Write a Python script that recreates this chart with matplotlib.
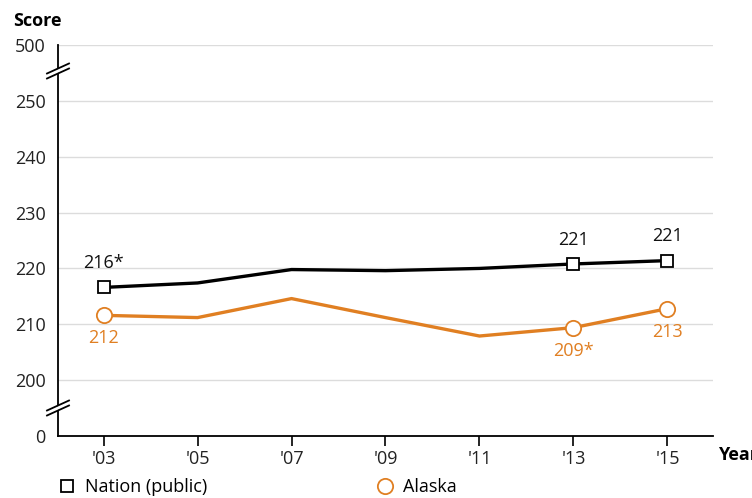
import numpy as np
import matplotlib
matplotlib.use("Agg")
import matplotlib.pyplot as plt
from matplotlib.lines import Line2D
from matplotlib.patches import Polygon

plt.rcParams['font.family'] = ['Open Sans', 'DejaVu Sans']

# ---- data ----
years = [2003, 2005, 2007, 2009, 2011, 2013, 2015]
year_labels = ["'03", "'05", "'07", "'09", "'11", "'13", "'15"]
nation = [216.6, 217.4, 219.8, 219.6, 220.0, 220.8, 221.4]
alaska = [211.6, 211.2, 214.6, 211.2, 207.9, 209.4, 212.8]
labeled_idx = [0, 5, 6]
nation_labels = ['216*', '221', '221']
alaska_labels = ['212', '209*', '213']
y_ticks = [0, 200, 210, 220, 230, 240, 250, 500]
y_tick_labels = ['0', '200', '210', '220', '230', '240', '250', '500']

BLACK = '#000000'
ORANGE = '#E07F22'
GRID = '#dcdcdc'
FS = 13

# broken y scale: 0-200 and 250-500 compressed into one 10-unit step each
def fwd(v):
    v = np.asarray(v, dtype=float)
    return np.where(v > 250, 250 + (v - 250) / 25.0,
                    np.where(v < 200, 190 + v / 20.0, v))

def inv(p):
    p = np.asarray(p, dtype=float)
    return np.where(p > 250, 250 + (p - 250) * 25.0,
                    np.where(p < 200, (p - 190) * 20.0, p))

fig = plt.figure(figsize=(7.52, 4.98), dpi=100)
ax = fig.add_axes([58/752, 1-436/498, (713-58)/752, (436-45)/498])
ax.set_yscale('function', functions=(fwd, inv))
ax.set_ylim(0, 500)
ax.set_xlim(2002.03, 2015.97)

ax.set_yticks(y_ticks)
ax.set_yticklabels(y_tick_labels)
ax.set_xticks(years)
ax.set_xticklabels(year_labels)
ax.yaxis.set_minor_locator(matplotlib.ticker.NullLocator())
ax.tick_params(axis='y', length=0, pad=9, labelsize=FS, colors='#222222')
ax.tick_params(axis='x', length=7, width=1.2, pad=3, labelsize=FS,
               colors='#222222', direction='out')
ax.tick_params(axis='x', color='black')

for v in y_ticks[1:]:
    ax.axhline(v, color=GRID, lw=1.0, zorder=0)

for s in ['top', 'right']:
    ax.spines[s].set_visible(False)
ax.spines['left'].set_linewidth(1.3)
ax.spines['bottom'].set_linewidth(1.3)

ax.plot(years, nation, color=BLACK, lw=2.4, marker='s', markevery=labeled_idx,
        markersize=9, markerfacecolor='white', markeredgecolor=BLACK,
        markeredgewidth=1.3, zorder=3, solid_joinstyle='round')
ax.plot(years, alaska, color=ORANGE, lw=2.4, marker='o', markevery=labeled_idx,
        markersize=11, markerfacecolor='white', markeredgecolor=ORANGE,
        markeredgewidth=1.3, zorder=3, solid_joinstyle='round')

for i, lab in zip(labeled_idx, nation_labels):
    ax.annotate(lab, (years[i], nation[i]), xytext=(0, 17.5), textcoords='offset points',
                ha='center', va='center', fontsize=FS, color='#111111')
for i, lab in zip(labeled_idx, alaska_labels):
    ax.annotate(lab, (years[i], alaska[i]), xytext=(0, -16.5), textcoords='offset points',
                ha='center', va='center', fontsize=FS, color=ORANGE)

# axis break marks
def break_mark(ycenter_px):
    ax_w = 713 - 58
    ax_h = 436 - 45
    def pt(dx, dy):
        return (dx / ax_w, (436 - (ycenter_px + dy)) / ax_h)
    gap = 5
    poly = Polygon([pt(-11, 5 - gap/2 + 0.5), pt(11, -5 - gap/2 + 0.5),
                    pt(11, -5 + gap/2 - 0.5), pt(-11, 5 + gap/2 - 0.5)],
                   closed=True, transform=ax.transAxes, facecolor='white',
                   edgecolor='none', clip_on=False, zorder=5)
    ax.add_patch(poly)
    for off in (-gap/2, gap/2):
        a = pt(-11, 5 + off)
        b = pt(11, -5 + off)
        ax.add_line(Line2D([a[0], b[0]], [a[1], b[1]], transform=ax.transAxes,
                           color='black', lw=1.3, clip_on=False, zorder=6))

break_mark(71)
break_mark(408)

fig.text(13/752, 1-21/498, 'Score', fontsize=FS, fontweight='bold', ha='left', va='center')
fig.text(718/752, 1-455/498, 'Year', fontsize=FS, fontweight='bold', ha='left', va='center')

h1 = Line2D([], [], ls='none', marker='s', markersize=9, markerfacecolor='white',
            markeredgecolor=BLACK, markeredgewidth=1.3)
h2 = Line2D([], [], ls='none', marker='o', markersize=11, markerfacecolor='white',
            markeredgecolor=ORANGE, markeredgewidth=1.3)
fig.legend([h1], ['Nation (public)'], loc='center left', bbox_to_anchor=(57/752, 1-487/498),
           frameon=False, fontsize=FS, handlelength=1.1, handletextpad=0.45,
           borderpad=0, borderaxespad=0)
fig.legend([h2], ['Alaska'], loc='center left', bbox_to_anchor=(375/752, 1-487/498),
           frameon=False, fontsize=FS, handlelength=1.1, handletextpad=0.45,
           borderpad=0, borderaxespad=0)

fig.savefig('out.png', dpi=100)
